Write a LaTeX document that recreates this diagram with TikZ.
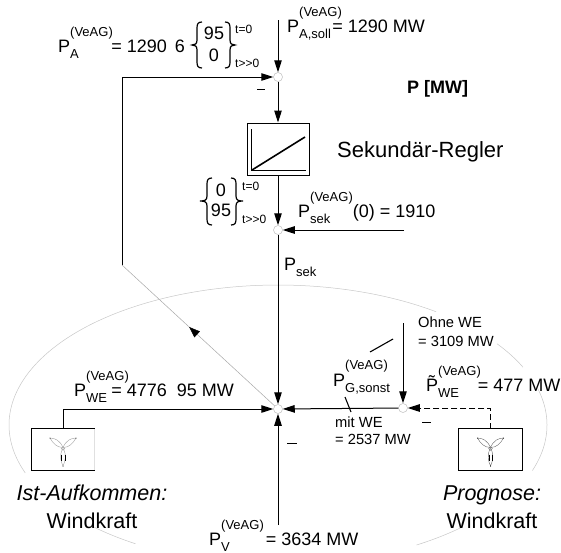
\documentclass[tikz,border=0pt]{standalone}
\usepackage{fontspec}
\setmainfont{Liberation Sans}
\usetikzlibrary{arrows.meta,decorations.markings}
\newcommand\fsz[1]{\fontsize{#1}{#1}\selectfont}
\newlength\pvw
\newsavebox\pvsub
\newsavebox\pvsup
% P with stacked subscript and superscript
\newcommand\Pv[3][P]{%
  \sbox\pvsub{\fsz{13}#2}\sbox\pvsup{\fsz{13}#3}%
  \setlength\pvw{\wd\pvsub}\ifdim\wd\pvsup>\pvw\setlength\pvw{\wd\pvsup}\fi
  #1\rlap{\raisebox{15.5pt}{\usebox\pvsup}}\rlap{\raisebox{-6pt}{\usebox\pvsub}}\hspace*{\pvw}}
\tikzset{
  txt/.style={inner sep=0pt,anchor=base west,font=\fsz{18}},
  ctxt/.style={inner sep=0pt,anchor=base,font=\fsz{18}},
  small/.style={inner sep=0pt,anchor=base west,font=\fsz{14.7}},
  tiny/.style={inner sep=0pt,anchor=base west,font=\fsz{12}},
  junction/.style={circle,draw=black!25,line width=.5pt,fill=white,minimum size=9pt,inner sep=0pt},
  conn/.style={line width=1pt,draw=black},
  flow/.style={conn,-{Triangle[length=12pt,width=7.5pt]}},
  dflow/.style={flow,dash pattern=on 6pt off 3pt},
  halo/.style={line width=.5pt,draw=black!22},
  brace/.style={line width=1.2pt,draw=black},
  unitbox/.style={inner sep=0pt,minimum width=63pt,minimum height=41pt},
  minus/.style={line width=.9pt,draw=black}
}
\begin{document}
\begin{tikzpicture}[x=1pt,y=-1pt]
\useasboundingbox (0,0) rectangle (561,552);
% surrounding halo
\foreach \a/\b in {160/306,324.5/335.6,345/379,406.8/419,122/133}{
  \draw[halo] plot[domain=\a:\b,samples=60,smooth] ({278+269*cos(\x)},{425+140*sin(\x)});
}
% junctions
\node[junction] (jtop) at (278,77) {};
\node[junction] (jmid) at (278,230) {};
\node[junction] (jmain) at (278,409) {};
\node[junction] (jright) at (403,408) {};
% controller
\node[draw,line width=1pt,inner sep=0pt,minimum width=62pt,minimum height=52pt] (regler) at (278,149) {};
\draw[line width=.9pt] (251.7,129) -- (251.7,170) -- (306,170);
\draw[line width=1.6pt] (252,170) -- (305,137);
% free ends
\coordinate (sollstart) at (278,20);
\coordinate (sekstart) at (404,230);
\coordinate (vstart) at (278,525);
\coordinate (gstart) at (403,323);
\coordinate (fb) at (122,265);
% wind boxes
\node[unitbox] (wl) at (63,449.5) {};
\node[unitbox] (wr) at (490.5,449.5) {};
\draw[line width=.5pt,draw=black!12] (wl.north east) -- (wl.south east);
\draw[conn] (wl.north east) -- (wl.north west) -- (wl.south west) -- (wl.south east);
\draw[conn] (wr.north west) rectangle (wr.south east);
\foreach \cx/\shade in {63/38,490.5/60}{
  \begin{scope}[shift={(\cx,447.5)}]
    \draw[line width=.4pt,draw=black!\shade] (0,0) .. controls (-3,-7) and (-8,-9.5) .. (-13,-9.5) .. controls (-10,-4) and (-6,0) .. (0,0);
    \draw[line width=.4pt,draw=black!\shade] (0,0) .. controls (3,-7) and (8,-9.5) .. (13,-9.5) .. controls (10,-4) and (6,0) .. (0,0);
    \draw[line width=.4pt,draw=black!\shade] (-0.2,1) .. controls (-4,8) and (-2,14) .. (0,18.5) .. controls (2,14) and (4,8) .. (0.2,1);
    \draw[line width=.4pt,draw=black!\shade] (0,1) circle (1.8);
    \fill (-13,-9.5) circle (.5) (13,-9.5) circle (.5) (0,18.5) circle (.5);
    \draw[line width=.6pt] (-1.6,7) -- (-1.6,13.5) (1.9,7) -- (1.9,13.5);
  \end{scope}
}
% connectors
\draw[flow] (sollstart) -- (jtop);
\draw[flow] (jtop) -- (regler.north);
\draw[flow] (regler.south) -- (jmid);
\draw[flow] (sekstart) -- (jmid);
\draw[flow] (jmid) -- (jmain);
\draw[flow] (vstart) -- (jmain);
\draw[flow] (gstart) -- (jright);
\draw[flow] (jright) -- (jmain);
\draw[dflow] (wr.north) |- (jright);
\draw[flow] (wl.north) |- (jmain);
\draw[flow] (fb) |- (jtop);
\draw[halo,draw=black!35,postaction={decorate},decoration={markings,mark=at position 0.56 with {\arrow[black]{Triangle[length=11pt,width=8pt]}}}] (jmain) -- (fb);
% small marks
\draw[minus] (257,89) -- (265,89);
\draw[minus] (422,422) -- (431,422);
\draw[minus] (287,443) -- (297,443);
\draw[line width=1.1pt] (370,352) -- (393,339);
\draw[line width=1.1pt] (345,397) -- (351,412);
% braces
\draw[brace] (202,22) .. controls (198,22) and (197,24) .. (197,28) -- (197,40) .. controls (197,44) and (195,45) .. (192,45) .. controls (195,45) and (197,46) .. (197,50) -- (197,62) .. controls (197,66) and (198,68) .. (202,68);
\draw[brace] (225,22) .. controls (229,22) and (230,24) .. (230,28) -- (230,40) .. controls (230,44) and (232,45) .. (235,45) .. controls (232,45) and (230,46) .. (230,50) -- (230,62) .. controls (230,66) and (229,68) .. (225,68);
\draw[brace] (212,178) .. controls (208,178) and (207,180) .. (207,184) -- (207,196) .. controls (207,200) and (205,201) .. (200,201) .. controls (205,201) and (207,202) .. (207,206) -- (207,219) .. controls (207,223) and (208,225) .. (212,225);
\draw[brace] (231,178) .. controls (235,178) and (236,180) .. (236,184) -- (236,196) .. controls (236,200) and (238,201) .. (243,201) .. controls (238,201) and (236,202) .. (236,206) -- (236,219) .. controls (236,223) and (235,225) .. (231,225);
% labels
\node[txt] (lpa) at (58,52) {\Pv{A}{(VeAG)}\hspace*{-1.5pt}= 1290\hspace*{3pt} 6};
\node[ctxt] (n95a) at (214,39) {95};
\node[ctxt] (n0a) at (214,61) {0};
\node[tiny] (t0a) at (235,33) {t=0};
\node[tiny] (t1a) at (235,67) {t{>}{>}0};
\node[txt] (lsoll) at (287,32) {\Pv{A,soll}{(VeAG)}\hspace*{-9.5pt}= 1290 MW};
\node[inner sep=0pt,anchor=base west,font=\fsz{18}\bfseries] (unit) at (407,93) {P [MW]};
\node[inner sep=0pt,anchor=base west,font=\fsz{22}] (title) at (337,157) {Sekundär-Regler};
\node[ctxt] (n0b) at (221,196) {0};
\node[ctxt] (n95b) at (221,216) {95};
\node[tiny] (t0b) at (242,190) {t=0};
\node[tiny] (t1b) at (242,223) {t{>}{>}0};
\node[txt] (lsek0) at (298,217) {\Pv{sek}{(VeAG)}(0) = 1910};
\node[txt] (lsek) at (284,270) {P\raisebox{-6pt}{\fsz{13}sek}};
\node[txt] (lwe) at (74,396) {\Pv{WE}{(VeAG)}\hspace*{-17.5pt}= 4776\hspace*{5pt} 95 MW};
\node[txt] (lg) at (333,386.5) {P\rlap{\raisebox{17.5pt}{\fsz{13}(VeAG)}}\raisebox{-6pt}{\fsz{13}G,sonst}};
\node[small] (ohne) at (418,327) {Ohne WE};
\node[small] (ohne2) at (418,346) {= 3109 MW};
\node[small] (mit) at (335,427) {mit WE};
\node[small] (mit2) at (335,444) {= 2537 MW};
\node[txt] (lprog) at (426,391) {\Pv[\~{P}]{WE}{(VeAG)}\hspace*{-3pt}= 477 MW};
\node[ctxt,font=\fsz{21.5}\itshape] (ist) at (92,500) {Ist-Aufkommen:};
\node[ctxt,font=\fsz{21.5}] (wk1) at (92,528) {Windkraft};
\node[ctxt,font=\fsz{21.5}\itshape] (prog) at (492,500) {Prognose:};
\node[ctxt,font=\fsz{21.5}] (wk2) at (492,528) {Windkraft};
\node[txt] (lv) at (209,545) {\Pv{V}{(VeAG)}\hspace*{2pt}= 3634 MW};
\end{tikzpicture}
\end{document}
